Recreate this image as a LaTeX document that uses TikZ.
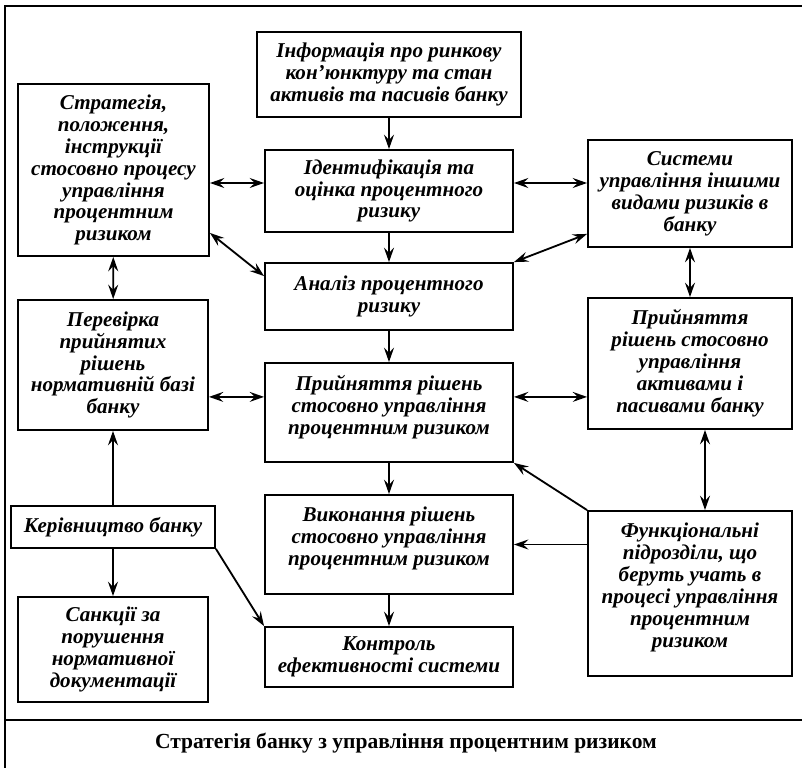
\documentclass[tikz,border=0pt]{standalone}
\usepackage{fontspec}
\setmainfont{Liberation Serif}
\usetikzlibrary{arrows.meta}

\begin{document}
\begin{tikzpicture}[x=0.025cm, y=-0.025cm,
  >={Stealth[length=3.6mm,width=2.5mm,inset=1.3mm]},
  blok/.style={draw, line width=1.3pt, align=center, inner sep=1pt,
    font=\fontsize{15}{15.6}\selectfont\bfseries\itshape},
  arr/.style={->, line width=1.3pt},
  dbl/.style={<->, line width=1.3pt}]
\useasboundingbox (0,0) rectangle (802,768);
% frame
\draw[line width=1.6pt] (5,768) -- (5,6) -- (802,6);
\draw[line width=1.3pt] (5,720) -- (802,720);
\node (title) at (406,743) {\fontsize{15.3}{17}\selectfont\bfseries Стратегія банку з управління процентним ризиком};
% middle column
\node[blok, minimum width=6.6cm, minimum height=2.125cm] (info) at (389,74.5) {Інформація про ринкову\\кон’юнктуру та стан\\активів та пасивів банку};
\node[blok, minimum width=6.2cm, minimum height=2.05cm] (ident) at (389,191) {Ідентифікація та\\оцінка процентного\\ризику};
\node[blok, minimum width=6.2cm, minimum height=1.675cm] (anal) at (389,296.5) {Аналіз процентного\\ризику};
\node[blok, minimum width=6.2cm, minimum height=2.475cm] (dec) at (389,412.5) {Прийняття рішень\\стосовно управління\\процентним ризиком\\[-5pt]\mbox{}};
\node[blok, minimum width=6.2cm, minimum height=2.475cm] (exec) at (389,544.5) {Виконання рішень\\стосовно управління\\процентним ризиком\\[-4pt]\mbox{}};
\node[blok, minimum width=6.2cm, minimum height=1.5cm] (ctrl) at (389,657) {Контроль\\ефективності системи};
% left column
\node[blok, minimum width=4.775cm, minimum height=4.3cm] (strat) at (113.5,170) {Стратегія,\\положення,\\інструкції\\стосовно процесу\\управління\\процентним\\ризиком};
\node[blok, minimum width=4.75cm, minimum height=3.25cm] (check) at (113,365) {Перевірка\\прийнятих\\рішень\\нормативній базі\\банку};
\node[blok, minimum width=5.1cm, minimum height=1.05cm] (kerivn) at (113,527) {Керівництво банку};
\node[blok, minimum width=4.75cm, minimum height=2.625cm] (sanct) at (113,649.5) {Санкції за\\порушення\\нормативної\\документації};
% right column
\node[blok, minimum width=5.1cm, minimum height=2.675cm] (sys) at (690,193.5) {Системи\\управління іншими\\видами ризиків в\\банку};
\node[blok, minimum width=5.1cm, minimum height=3.275cm] (assets) at (690,363.5) {Прийняття\\рішень стосовно\\управління\\активами і\\пасивами банку};
\node[blok, minimum width=5.1cm, minimum height=4.125cm] (func) at (690,593.5) {Функціональні\\підрозділи, що\\беруть учать в\\процесі управління\\процентним\\ризиком\\[-4pt]\mbox{}};
% arrows down the middle
\draw[arr] (info) -- (ident);
\draw[arr] (ident) -- (anal);
\draw[arr] (anal) -- (dec);
\draw[arr] (dec) -- (exec);
\draw[arr] (exec) -- (ctrl);
% two-way links
\draw[dbl] ([yshift=0.2cm]ident.west -| strat.east) -- ([yshift=0.2cm]ident.west);
\draw[dbl] ([yshift=0.2cm]ident.east) -- ([yshift=0.2cm]ident.east -| sys.west);
\draw[dbl] ([yshift=0.6cm]strat.south east) -- ([yshift=-0.35cm]anal.north west);
\draw[dbl] ([yshift=0.35cm]sys.south west) -- (anal.north east);
\draw[dbl] (strat) -- (check);
\draw[dbl] (sys) -- (assets);
\draw[dbl] ([yshift=0.39cm]dec.west -| check.east) -- ([yshift=0.39cm]dec.west);
\draw[dbl] ([yshift=0.39cm]dec.east) -- ([yshift=0.39cm]dec.east -| assets.west);
\draw[dbl] ([xshift=0.375cm]assets.south) -- ([xshift=0.375cm]assets.south |- func.north);
% functional units
\draw[arr] (func.north west) -- (dec.south east);
\draw[arr] (exec.east -| func.west) -- (exec.east);
% bank management
\draw[arr] (kerivn) -- (check);
\draw[arr] (kerivn) -- (sanct);
\draw[arr] (kerivn.south east) -- (ctrl.north west);
\end{tikzpicture}
\end{document}
